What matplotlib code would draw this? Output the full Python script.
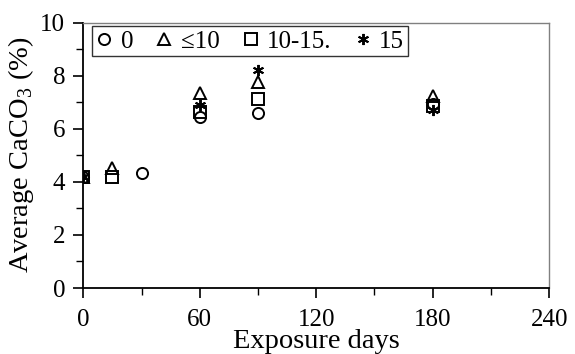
import numpy as np
import matplotlib
matplotlib.use("Agg")
import matplotlib.pyplot as plt

plt.rcParams['font.family'] = ['Liberation Serif', 'DejaVu Serif']
plt.rcParams['mathtext.fontset'] = 'custom'
plt.rcParams['mathtext.rm'] = 'Liberation Serif'

# CaCO3 moyen par groupe selon la durée d'exposition
labels = ["0", "≤10", "10-15.", "15"]
days_0 = [0, 30, 60, 90, 180]
caco3_0 = [4.2, 4.33, 6.45, 6.58, 6.92]
days_10 = [0, 15, 60, 90, 180]
caco3_10 = [4.2, 4.53, 7.35, 7.77, 7.22]
days_1015 = [0, 15, 60, 90, 180]
caco3_1015 = [4.2, 4.17, 6.62, 7.12, 6.85]
days_15 = [0, 60, 90, 180]
caco3_15 = [4.2, 6.9, 8.22, 6.7]

fig = plt.figure(figsize=(5.75, 3.54), dpi=100)
ax = fig.add_axes([0.145, 0.1864, 0.81, 0.75])

kw = dict(linestyle='none', color='black', markerfacecolor='none', markersize=8, markeredgewidth=1.4)
ax.plot(days_0, caco3_0, marker='o', label=labels[0], **kw)
ax.plot(days_10, caco3_10, marker='^', label=labels[1], **kw)
ax.plot(days_1015, caco3_1015, marker='s', label=labels[2], **kw)
ax.plot(days_15, caco3_15, marker=(6, 2, 0), label=labels[3], **kw)

ax.set_xlim(0, 240)
ax.set_ylim(0, 10)
ax.set_xticks(np.arange(0, 241, 60))
ax.set_xticks(np.arange(30, 240, 60), minor=True)
ax.set_yticks(np.arange(0, 11, 2))
ax.set_yticks(np.arange(1, 10, 2), minor=True)
ax.tick_params(axis='both', which='major', direction='out', length=7, width=1.2, labelsize=18)
ax.tick_params(axis='both', which='minor', direction='out', length=5, width=1.0)
ax.tick_params(axis='x', pad=8)
ax.tick_params(axis='y', pad=6)

for s in ['left', 'bottom']:
    ax.spines[s].set_linewidth(1.3)
for s in ['top', 'right']:
    ax.spines[s].set_color('#808080')
    ax.spines[s].set_linewidth(1.0)

ax.set_xlabel("Exposure days", fontsize=20.5, labelpad=-1)
ax.set_ylabel("Average CaCO$_3$ (%)", fontsize=20.5, labelpad=3)

leg = ax.legend(loc='upper left', bbox_to_anchor=(0.018, 0.985), ncol=4, fontsize=18,
                frameon=True, fancybox=False, handlelength=0.7, handletextpad=0.3,
                columnspacing=0.9, borderpad=0.15, borderaxespad=0)
leg.get_frame().set_edgecolor('black')
leg.get_frame().set_linewidth(1.0)

fig.savefig("out.png", dpi=100)
